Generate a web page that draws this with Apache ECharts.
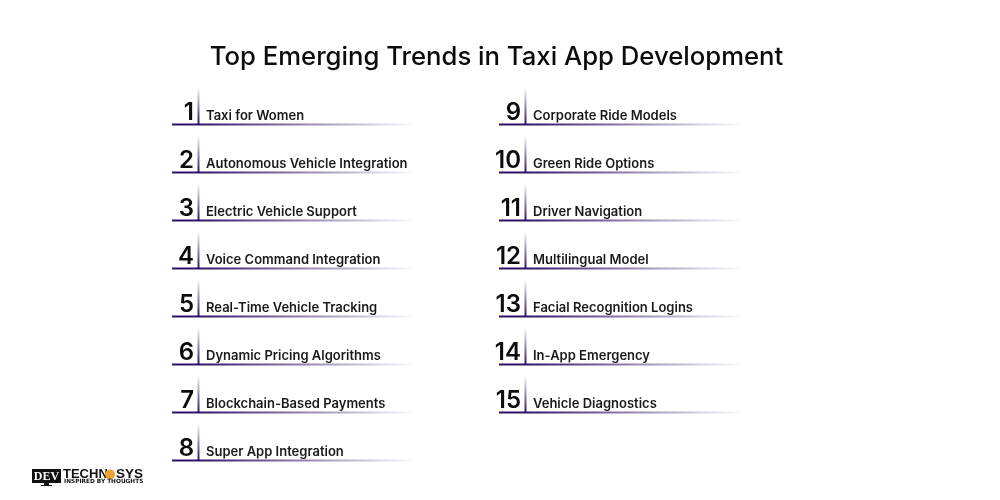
<!DOCTYPE html>
<html>
<head>
<meta charset="utf-8">
<style>html,body{margin:0;padding:0;background:#fff}#main{width:1000px;height:500px}</style>
<script src="https://cdn.jsdelivr.net/npm/echarts@6/dist/echarts.min.js"></script>
</head>
<body>
<div id="main"></div>
<script>
var ranks = [1,2,3,4,5,6,7,8,9,10,11,12,13,14,15];
var labels = [
	"Taxi for Women","Autonomous Vehicle Integration","Electric Vehicle Support","Voice Command Integration",
	"Real-Time Vehicle Tracking","Dynamic Pricing Algorithms","Blockchain-Based Payments","Super App Integration",
	"Corporate Ride Models","Green Ride Options","Driver Navigation","Multilingual Model",
	"Facial Recognition Logins","In-App Emergency","Vehicle Diagnostics"
];
var columns = [0,0,0,0,0,0,0,0,1,1,1,1,1,1,1];
var rows = [0,1,2,3,4,5,6,7,0,1,2,3,4,5,6];

var purple = "#2d1065";
var font = "Inter";
var myChart = echarts.init(document.getElementById('main'));

function fade(x0, y0, x1, y1, from, to){
	return new echarts.graphic.LinearGradient(x0, y0, x1, y1, [
		{offset:0, color:from},{offset:1, color:to}
	]);
}

function renderRow(params, api){
	var p = api.coord([api.value(0), api.value(1)]);
	var x = p[0], y = p[1];
	var i = params.dataIndex;
	return {
		type:"group",
		children:[
			{type:"rect", shape:{x:x, y:y-1, width:26, height:2}, style:{fill:purple}},
			{type:"rect", shape:{x:x+26, y:y-1, width:220, height:2},
				style:{fill:fade(0,0,1,0,purple,"rgba(45,16,101,0)")}},
			{type:"rect", shape:{x:x+25.5, y:y-37, width:2, height:37},
				style:{fill:fade(0,0,0,1,"rgba(45,16,101,0)",purple)}},
			{type:"text", style:{x:x+22, y:y, text:String(ranks[i]), textAlign:"right", textVerticalAlign:"bottom",
				font:"600 24px "+font, fill:"#0c0c0c"}},
			{type:"text", style:{x:x+34, y:y-2, text:labels[i], textAlign:"left", textVerticalAlign:"bottom",
				font:"600 13px "+font, fill:"#1a1a1a"}}
		]
	};
}

myChart.setOption({
	animation:false,
	backgroundColor:"#fff",
	title:{
		text:"Top Emerging Trends in Taxi App Development",
		left:491.5, top:39, textAlign:"center",
		textStyle:{fontFamily:font, fontSize:25.7, fontWeight:500, color:"#0c0c0c"}
	},
	grid:{left:172, top:124.5, width:327, height:336},
	xAxis:{type:"value", min:0, max:1, show:false},
	yAxis:{type:"value", min:0, max:7, inverse:true, show:false},
	series:[{
		type:"custom",
		clip:false,
		renderItem:renderRow,
		data:columns.map(function(c,i){ return [c, rows[i]]; })
	}],
	graphic:[
		{type:"rect", shape:{x:32, y:469, width:29, height:14}, style:{fill:"#111"}},
		{type:"rect", shape:{x:44, y:483, width:5, height:2}, style:{fill:"#111"}},
		{type:"rect", shape:{x:41, y:485, width:11, height:1}, style:{fill:"#111"}},
		{type:"text", style:{x:46.5, y:476.5, text:"DEV", textAlign:"center", textVerticalAlign:"middle",
			font:"700 12px 'Liberation Serif'", fill:"#fff"}},
		{type:"text", style:{x:63, y:474.5, text:"TECHN", textAlign:"left", textVerticalAlign:"middle",
			font:"700 13px 'Liberation Sans'", fill:"#111"}},
		{type:"circle", shape:{cx:110, cy:474.5, r:5}, style:{fill:"#f0a030"}},
		{type:"text", style:{x:116, y:474.5, text:"SYS", textAlign:"left", textVerticalAlign:"middle",
			font:"700 13.5px 'Liberation Sans'", fill:"#111"}},
		{type:"text", style:{x:64, y:481.5, text:"INSPIRED BY THOUGHTS", textAlign:"left", textVerticalAlign:"middle",
			font:"700 5.8px 'DejaVu Sans'", fill:"#111"}}
	]
});
</script>
</body>
</html>
